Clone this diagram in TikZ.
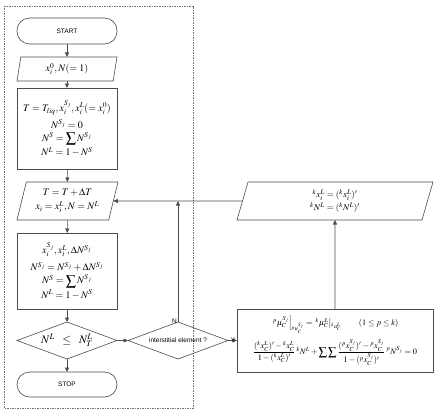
\documentclass[tikz,border=0pt]{standalone}
\usepackage{mathptmx}
\usepackage{amsmath}
\usepackage{fontspec}
\setmainfont{Liberation Serif}
\setsansfont{Liberation Sans}
\usetikzlibrary{shapes.geometric,arrows.meta}
\begin{document}
\begin{tikzpicture}[x=1pt,y=-1pt,
  line/.style={draw=black!70, line width=0.6pt},
  arr/.style={draw=black!70, line width=0.6pt, -{Triangle[length=4.5pt,width=4pt]}},
  box/.style={line, rectangle, minimum width=100pt, inner sep=0pt, outer sep=0pt, align=center, font=\fontsize{10}{12}\selectfont},
  term/.style={line, rectangle, rounded corners=12.5pt, minimum width=100pt, inner sep=0pt, outer sep=0pt, font=\sffamily\fontsize{6.5}{8}\selectfont},
  para/.style={line, trapezium, trapezium stretches body, inner sep=0pt, outer sep=0pt, align=center, font=\fontsize{10}{12}\selectfont},
  dec/.style={line, diamond, minimum width=100pt, minimum height=37pt, aspect=2.7, inner sep=0pt, outer sep=0pt},
  lab/.style={font=\sffamily\fontsize{6.5}{8}\selectfont, inner sep=0pt}
]
\useasboundingbox (0,0) rectangle (439,420);
\draw[black!55, line width=0.5pt, dash pattern=on 1.5pt off 1pt] (4,6) rectangle (193,408);

\node[term, minimum height=26pt] (start) at (67,31) {START};
\node[para, minimum width=100pt, minimum height=24pt, trapezium left angle=71.6, trapezium right angle=108.4] (in1) at (67,69) {$x_i^0, N(=1)$};
\node[box, minimum height=81pt] (box1) at (67,128.5) {$T=T_{liq}, x_i^{S_j}, x_i^L(=x_i^0)$\\[5pt]
  $N^{S_j}=0$\\[1pt]
  $N^S=\displaystyle\sum N^{S_j}$\\[1pt]
  $N^L=1-N^S$};
\node[para, minimum width=101pt, minimum height=38pt, trapezium left angle=68.5, trapezium right angle=111.5] (p2) at (67.5,201) {$T=T+\Delta T$\\[2pt] $x_i=x_i^L, N=N^L$};
\node[box, minimum height=76pt] (box2) at (67,271) {$x_i^{S_j}, x_i^L, \Delta N^{S_j}$\\[5pt]
  $N^{S_j}=N^{S_j}+\Delta N^{S_j}$\\[1pt]
  $N^S=\displaystyle\sum N^{S_j}$\\[1pt]
  $N^L=1-N^S$};
\node[dec, font=\fontsize{11.5}{14}\selectfont] (dia) at (67,340.5) {$N^L\;\;\le\;\;N_T^L$};
\node[term, minimum height=25pt] (stop) at (67,384.5) {STOP};

\node[dec, font=\sffamily\fontsize{6.5}{8}\selectfont] (inter) at (178,340.5) {interstitial element ?};

\node[box, minimum width=196pt, minimum height=63pt, font=\fontsize{8.3}{10}\selectfont] (rbox) at (335,340.5) {%
  $\left.{}^p\mu_C^{S_j}\right|_{{}^p u_C^{S_j}}=\left.{}^k\mu_C^L\right|_{{}^k u_C^L}\qquad(1\le p\le k)$\\[5pt]
  $\dfrac{({}^k x_C^L)'-{}^k x_C^L}{1-({}^k x_C^L)'}\,{}^kN^L+\displaystyle\sum\sum\dfrac{({}^p x_C^{S_j})'-{}^p x_C^{S_j}}{1-({}^p x_C^{S_j})'}\,{}^pN^{S_j}=0$};

\node[para, minimum width=196pt, minimum height=38pt, trapezium left angle=64.7, trapezium right angle=115.3, font=\fontsize{9}{11}\selectfont] (rpar) at (335,201) {${}^k x_i^L=({}^k x_i^L)'$\\[2pt] ${}^kN^L=({}^kN^L)'$};

\coordinate (j) at (inter.north |- p2.east);

\draw[arr] (start) -- (in1);
\draw[arr] (in1) -- (box1);
\draw[arr] (box1) -- (p2);
\draw[arr] (p2) -- (box2);
\draw[arr] (box2) -- (dia);
\draw[arr] (dia) -- (stop);
\draw[arr] (dia.east) -- (inter.west);
\draw[arr] (inter.east) -- (rbox.west);
\draw[arr] (rbox.north) -- (rpar.south);
\draw[arr] (rpar.west) -- (p2.east);
\draw[arr] (inter.north) -- (j);

\node[lab, anchor=south east] (nlab) at ([shift={(-1pt,-2pt)}]inter.north) {N};
\node[lab, anchor=south] (ylab) at ([shift={(-4pt,-2pt)}]rbox.west) {Y};
\end{tikzpicture}
\end{document}
